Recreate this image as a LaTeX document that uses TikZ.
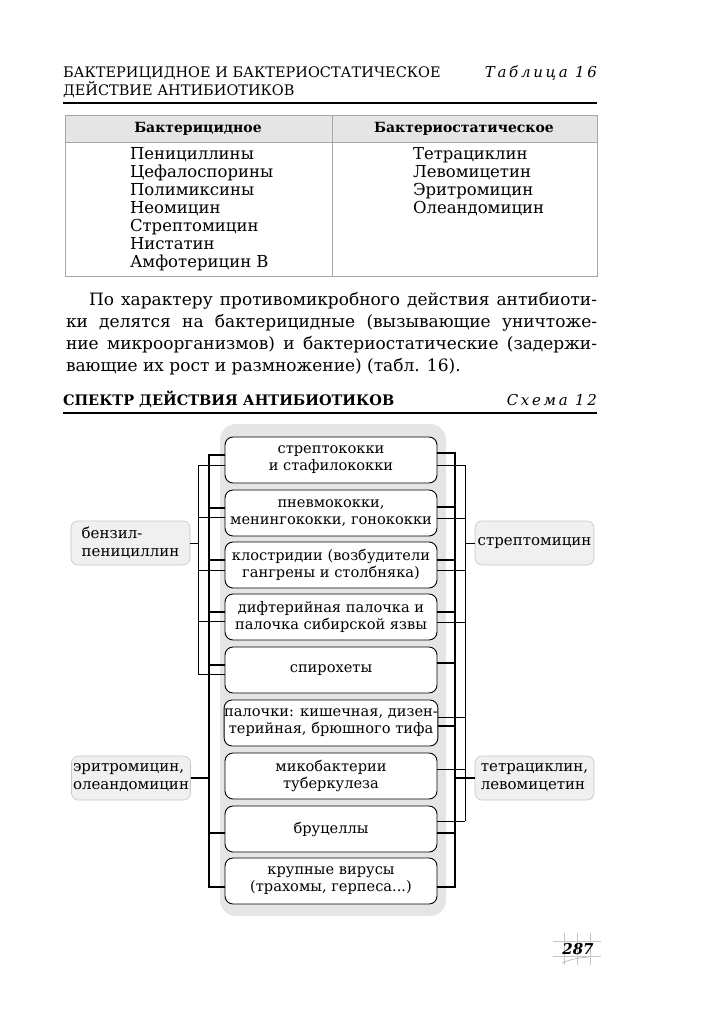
\documentclass[tikz,border=0pt]{standalone}
\usepackage{fontspec}
\setmainfont{DejaVu Serif}
\newfontfamily\spacedfont[LetterSpace=18]{DejaVu Serif}
\begin{document}
\begin{tikzpicture}[x=1pt,y=-1pt,
  every node/.style={inner sep=0pt, outer sep=0pt},
  box/.style={draw, line width=0.9pt, rounded corners=8pt, fill=white, minimum width=212pt, minimum height=46pt, align=center, font=\fontsize{14.6}{17}\selectfont},
  drug/.style={draw=gray!45, line width=0.6pt, rounded corners=7pt, fill=gray!12, align=left, font=\fontsize{15}{18}\selectfont, minimum height=44pt, minimum width=119pt},
  thk/.style={line width=2pt},
  thn/.style={line width=0.6pt},
  rule/.style={line width=1.6pt},
  ptext/.style={anchor=base west, font=\fontsize{17}{20}\selectfont},
  ttext/.style={anchor=base west, font=\fontsize{16.5}{18}\selectfont},
  head/.style={anchor=base west, font=\fontsize{14.5}{18}\selectfont},
]
\useasboundingbox (0,0) rectangle (724,1024);

% page header
\node[head] (h1) at (63,78) {БАКТЕРИЦИДНОЕ И БАКТЕРИОСТАТИЧЕСКОЕ};
\node[head] (h2) at (63,96) {ДЕЙСТВИЕ АНТИБИОТИКОВ};
\node[anchor=base east, font=\spacedfont\itshape\fontsize{15}{18}\selectfont] (t16) at (597,78) {Таблица 16};
\draw[rule] (63,103) -- (597,103);

% table
\fill[gray!20] (65,115) rectangle (597,142);
\draw[gray!70, line width=0.8pt] (65,115) rectangle (597,276);
\draw[gray!70, line width=0.8pt] (65,142) -- (597,142);
\draw[gray!70, line width=0.8pt] (332,115) -- (332,276);
\node[font=\bfseries\fontsize{14}{17}\selectfont] (th1) at (198,129) {Бактерицидное};
\node[font=\bfseries\fontsize{14}{17}\selectfont] (th2) at (464,129) {Бактериостатическое};
\node[ttext] (a1) at (130,160) {Пенициллины};
\node[ttext] (a2) at (130,178) {Цефалоспорины};
\node[ttext] (a3) at (130,196) {Полимиксины};
\node[ttext] (a4) at (130,214) {Неомицин};
\node[ttext] (a5) at (130,232) {Стрептомицин};
\node[ttext] (a6) at (130,249) {Нистатин};
\node[ttext] (a7) at (130,267) {Амфотерицин В};
\node[ttext] (s1) at (413,160) {Тетрациклин};
\node[ttext] (s2) at (413,178) {Левомицетин};
\node[ttext] (s3) at (413,196) {Эритромицин};
\node[ttext] (s4) at (413,214) {Олеандомицин};

% paragraph
\node[ptext] (p1) at (89,305) {\makebox[508pt][s]{По характеру противомикробного действия антибиоти-}};
\node[ptext] (p2) at (66,327) {\makebox[531pt][s]{ки делятся на бактерицидные (вызывающие уничтоже-}};
\node[ptext] (p3) at (66,349) {\makebox[531pt][s]{ние микроорганизмов) и бактериостатические (задержи-}};
\node[ptext] (p4) at (66,371) {вающие их рост и размножение) (табл. 16).};

% schema header
\node[head, font=\bfseries\fontsize{14.5}{18}\selectfont] (sh) at (63,405) {СПЕКТР ДЕЙСТВИЯ АНТИБИОТИКОВ};
\node[anchor=base east, font=\spacedfont\itshape\fontsize{15}{18}\selectfont] (s12) at (597,405) {Схема 12};
\draw[rule] (63,413) -- (597,413);

% background of the boxes
\fill[gray!20, rounded corners=16pt] (220,424) rectangle (446,916);

% boxes
\node[box] (b1) at (331,460) {стрептококки\\и стафилококки};
\node[box] (b2) at (331,513) {пневмококки,\\менингококки, гонококки};
\node[box] (b3) at (331,565) {клостридии (возбудители\\гангрены и столбняка)};
\node[box] (b4) at (331,617) {дифтерийная палочка и\\палочка сибирской язвы};
\node[box] (b5) at (331,670) {спирохеты};
\node[box] (b6) at (331,723) {палочки: кишечная, дизен-\\терийная, брюшного тифа};
\node[box] (b7) at (331,776) {микобактерии\\туберкулеза};
\node[box] (b8) at (331,829) {бруцеллы};
\node[box] (b9) at (331,881) {крупные вирусы\\(трахомы, герпеса...)};

% drug nodes
\node[drug] (ben) at (130.5,543) {бензил-\\пенициллин};
\node[drug] (eri) at (131,778) {эритромицин,\\олеандомицин};
\node[drug] (str) at (534.5,543) {стрептомицин};
\node[drug] (tet) at (534.5,778) {тетрациклин,\\левомицетин};

% left thin bracket (бензилпенициллин)
\coordinate (lt1) at (198,465);
\coordinate (lt2) at (198,674);
\draw[thn] (lt1) -- (lt2);
\foreach \b/\d in {1/-5,2/-4,3/-5,4/-4,5/-4}
  \draw[thn] ([yshift=\d pt]b\b.west) -- ++(-27,0);
\draw[thn] (ben.east) -- ++(8,0);

% left thick bracket (эритромицин)
\coordinate (lk1) at (209,454);
\coordinate (lk2) at (209,888);
\draw[thk] (lk1) -- (lk2);
\foreach \b/\d in {1/5,2/5,3/5,4/5,5/5,8/-4,9/-6}
  \draw[thk] ([yshift=\d pt]b\b.west) -- ++(-16,0);
\draw[thk] (eri.east) -- ++(19,0);

% right thick bracket (тетрациклин)
\coordinate (rk1) at (455,452);
\coordinate (rk2) at (455,888);
\draw[thk] (rk1) -- (rk2);
\foreach \b/\d in {1/7,2/6,3/5,4/5,5/7,6/-3,8/-4,9/-6}
  \draw[thk] ([yshift=\d pt]b\b.east) -- ++(18,0);
\draw[thk] (tet.west) -- ++(-21,0);

% right thin bracket (стрептомицин)
\coordinate (rt1) at (465,465);
\coordinate (rt2) at (465,821);
\draw[thn] (rt1) -- (rt2);
\foreach \b/\d in {1/-5,2/-5,3/-5,4/-5,6/6,7/7,8/8}
  \draw[thn] ([yshift=\d pt]b\b.east) -- ++(28,0);
\draw[thn] (str.west) -- ++(-10,0);

% page number
\draw[gray!45, line width=0.5pt] (564,933) -- (564,965) (577,933) -- (577,965) (590,933) -- (590,965)
  (553,941) -- (601,941) (553,956) -- (601,956);
\draw[gray!60, line width=0.6pt] (562,963) .. controls (572,959) .. (588,957);
\node[font=\bfseries\itshape\fontsize{15}{15}\selectfont] (pn) at (578,949) {287};
\end{tikzpicture}
\end{document}
